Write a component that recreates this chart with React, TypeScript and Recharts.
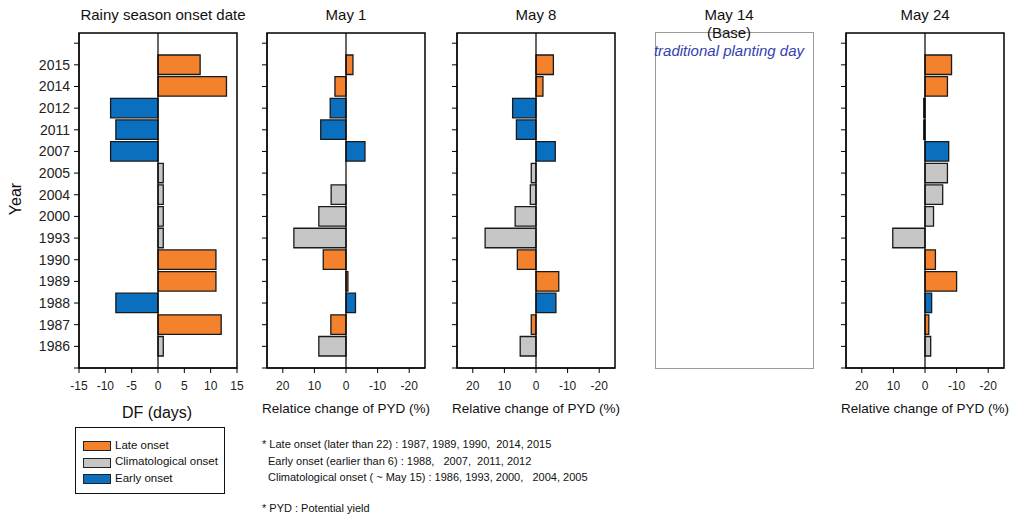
import React from "react";
import { BarChart, Bar, XAxis, YAxis, Cell, ReferenceLine, ReferenceArea } from "recharts";

const years = ["2015", "2014", "2012", "2011", "2007", "2005", "2004", "2000", "1993", "1990", "1989", "1988", "1987", "1986"];
const onsetType = ["late", "late", "early", "early", "early", "clim", "clim", "clim", "clim", "late", "late", "early", "late", "clim"];
const dfDays = [8, 13, -9, -8, -9, 1, 1, 1, 1, 11, 11, -8, 12, 1];
const may1 = [-2.2, 3.5, 5, 8, -6, 0, 4.7, 8.6, 16.5, 7.2, -0.6, -3, 4.8, 8.6];
const may8 = [-5.5, -2.2, 7.4, 6.2, -6.1, 1.5, 1.8, 6.6, 16.1, 5.9, -7.2, -6.3, 1.5, 5.0];
const may24 = [-8.4, -7.1, 0.4, 0.4, -7.5, -7.1, -5.6, -2.7, 10.2, -3.3, -10, -2.1, -1.2, -1.8];

const dfTicks = [-15, -10, -5, 0, 5, 10, 15];
const pydTicks = [-20, -10, 0, 10, 20];
const yTicks = [0, 1, 2, 3, 4, 5, 6, 7, 8, 9, 10, 11, 12, 13, 14, 15];
const Y_MIN = -0.47;
const Y_MAX = 15;

const legendItems = [
  { key: "late", label: "Late onset" },
  { key: "clim", label: "Climatological onset" },
  { key: "early", label: "Early onset" },
];

const colors: Record<string, string> = {
  late: "#F4812B",
  clim: "#C6C6C6",
  early: "#0A6FBF",
};

const FONT = '"Liberation Sans", Arial, Helvetica, sans-serif';

function yearLabel(t: number) {
  if (t >= 1 && t <= 14) return years[t - 1];
  return "";
}

function Panel(props: {
  left: number;
  values: number[];
  domain: [number, number];
  ticks: number[];
  reversed: boolean;
  showYLabels: boolean;
}) {
  const { left, values, domain, ticks, reversed, showYLabels } = props;
  const data = years.map((y, i) => ({ pos: i + 1, year: y, type: onsetType[i], v: values[i] }));
  return (
    <div style={{ position: "absolute", left: left - 60, top: 0 }}>
      <BarChart
        width={228}
        height={400}
        data={data}
        layout="vertical"
        margin={{ top: 33, right: 10, bottom: 0, left: 0 }}
      >
        <XAxis
          type="number"
          domain={domain}
          ticks={ticks}
          reversed={reversed}
          allowDataOverflow
          height={32}
          tickSize={5}
          tickMargin={8}
          interval={0}
          stroke="#000"
          tick={{ fontSize: 12, fill: "#222" }}
        />
        <YAxis
          type="number"
          dataKey="pos"
          domain={[Y_MIN, Y_MAX]}
          ticks={yTicks}
          allowDataOverflow
          width={60}
          tickSize={5}
          tickMargin={4}
          interval={0}
          stroke="#000"
          tickFormatter={(t: number) => (showYLabels ? yearLabel(t) : "")}
          tick={{ fontSize: 14, fill: "#222" }}
        />
        <ReferenceArea
          x1={domain[0]}
          x2={domain[1]}
          y1={Y_MIN}
          y2={Y_MAX}
          fill="none"
          fillOpacity={0}
          stroke="#000"
          strokeWidth={1.5}
          ifOverflow="visible"
        />
        <ReferenceLine x={0} stroke="#000" strokeWidth={1.2} />
        <Bar dataKey="v" barSize={21.67} isAnimationActive={false} stroke="#1a1a1a" strokeWidth={1.3}>
          {data.map((d, i) => (
            <Cell key={i} fill={colors[d.type]} />
          ))}
        </Bar>
      </BarChart>
    </div>
  );
}

function Txt(props: { x: number; y: number; size: number; children: React.ReactNode; align?: string; style?: React.CSSProperties }) {
  const { x, y, size, children, align = "center", style } = props;
  const w = 400;
  const left = align === "center" ? x - w / 2 : x;
  return (
    <div
      style={{
        position: "absolute",
        left,
        top: y - size * 0.6,
        width: w,
        textAlign: align as any,
        fontSize: size,
        lineHeight: `${size * 1.2}px`,
        whiteSpace: "pre",
        color: "#111",
        ...style,
      }}
    >
      {children}
    </div>
  );
}

export default function App() {
  return (
    <div
      style={{
        position: "absolute",
        left: 0,
        top: 0,
        width: 1017,
        height: 516,
        background: "#fff",
        fontFamily: FONT,
        overflow: "hidden",
      }}
    >
      <Panel left={79} values={dfDays} domain={[-15, 15]} ticks={dfTicks} reversed={false} showYLabels={true} />
      <Panel left={267} values={may1} domain={[-25, 25]} ticks={pydTicks} reversed={true} showYLabels={false} />
      <Panel left={457} values={may8} domain={[-25, 25]} ticks={pydTicks} reversed={true} showYLabels={false} />
      <Panel left={846} values={may24} domain={[-25, 25]} ticks={pydTicks} reversed={true} showYLabels={false} />

      {/* Base panel */}
      <div
        style={{
          position: "absolute",
          left: 655,
          top: 32,
          width: 157,
          height: 335,
          border: "1px solid #9a9a9a",
        }}
      />

      {/* titles */}
      <Txt x={163} y={15} size={15}>Rainy season onset date</Txt>
      <Txt x={346} y={15} size={15}>May 1</Txt>
      <Txt x={536} y={15} size={15}>May 8</Txt>
      <Txt x={729} y={15} size={15}>May 14</Txt>
      <Txt x={729} y={33} size={15}>(Base)</Txt>
      <Txt x={729} y={51} size={15} style={{ fontStyle: "italic", color: "#3340B0" }}>traditional planting day</Txt>
      <Txt x={925} y={15} size={15}>May 24</Txt>

      {/* axis titles */}
      <Txt x={157} y={413} size={16}>DF (days)</Txt>
      <Txt x={346} y={409} size={13.5}>Relatice change of PYD (%)</Txt>
      <Txt x={536} y={409} size={13.5}>Relative change of PYD (%)</Txt>
      <Txt x={925} y={409} size={13.5}>Relative change of PYD (%)</Txt>
      <div
        style={{
          position: "absolute",
          left: 16 - 30,
          top: 199 - 10,
          width: 60,
          height: 20,
          lineHeight: "20px",
          textAlign: "center",
          fontSize: 16,
          color: "#111",
          transform: "rotate(-90deg)",
        }}
      >
        Year
      </div>

      {/* legend */}
      <div
        style={{
          position: "absolute",
          left: 75,
          top: 427,
          width: 148,
          height: 65,
          border: "1.5px solid #111",
        }}
      />
      {legendItems.map((it, i) => (
        <React.Fragment key={it.key}>
          <div
            style={{
              position: "absolute",
              left: 83,
              top: 441 + i * 16.7,
              width: 26,
              height: 8,
              background: colors[it.key],
              border: "1px solid #222",
            }}
          />
          <Txt x={115} y={445.5 + i * 16.7} size={11.5} align="left">{it.label}</Txt>
        </React.Fragment>
      ))}

      {/* notes */}
      <Txt x={262} y={445} size={11} align="left">{"* Late onset (later than 22) : 1987, 1989, 1990,  2014, 2015"}</Txt>
      <Txt x={268} y={461.5} size={11} align="left">{"Early onset (earlier than 6) : 1988,   2007,  2011, 2012"}</Txt>
      <Txt x={268} y={478} size={11} align="left">{"Climatological onset ( ~ May 15) : 1986, 1993, 2000,   2004, 2005"}</Txt>
      <Txt x={262} y={509} size={11} align="left">{"* PYD : Potential yield"}</Txt>
    </div>
  );
}
